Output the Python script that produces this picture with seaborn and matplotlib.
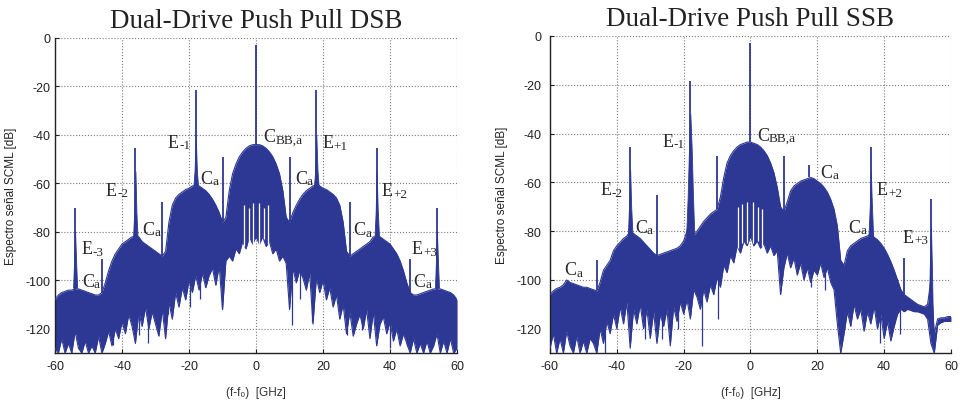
import numpy as np
import seaborn as sns
import matplotlib.pyplot as plt

sns.set_style("ticks")
plt.rcParams["font.family"] = ["Liberation Sans", "DejaVu Sans"]
plt.rcParams["axes.unicode_minus"] = False

# frequency grid (GHz), one reading per GHz
freq = np.arange(-60, 61)

# ---- DSB panel: upper edge and lower edge of the spectrum band (dB)
dsb_top = [
    -108, -106, -105, -104.5, -104, -104, -103.5, -103.5, -104, -104.5,
    -105, -105.5, -106, -106, -105, -101, -96, -92, -89, -87,
    -85, -84, -83, -82, -82, -82, -84, -85, -86, -87,
    -88, -89, -90, -88, -76, -69, -66, -64.5, -63.5, -62.5,
    -62, -61, -61, -61, -62, -63, -64.5, -66.5, -69, -72,
    -76, -74, -63, -56, -52, -49, -47, -45.5, -44.5, -44,
    -44,
    -44, -44.5, -45.5, -47, -49, -52, -56, -63, -74, -76,
    -72, -69, -66.5, -64.5, -63, -62, -61, -60.5, -61, -62,
    -62.5, -63.5, -64.5, -66, -69, -76, -88, -90, -89, -88,
    -87, -86, -85, -84, -82, -82, -82, -83, -84, -85,
    -87, -89, -92, -96, -101, -105, -106, -106, -105.5, -105,
    -104.5, -104, -103.5, -103.5, -103.5, -104, -104.5, -105, -106, -108,
]
dsb_floor = [
    -128, -130, -124, -130, -126, -130, -121, -128, -130, -125,
    -130, -127, -130, -123, -130, -126, -121, -127, -120, -124,
    -117, -122, -114, -119, -126, -113, -119, -111, -120, -113,
    -118, -123, -112, -124, -109, -116, -105, -111, -103, -108,
    -100, -105, -98, -104, -97, -103, -98, -95, -102, -94,
    -112, -92, -90, -92, -87, -89, -84, -87, -82, -85,
    -82,
    -85, -82, -86, -84, -89, -87, -92, -90, -93, -112,
    -95, -101, -96, -99, -104, -97, -118, -99, -105, -100,
    -108, -103, -111, -106, -116, -110, -122, -113, -123, -118,
    -114, -120, -112, -124, -113, -127, -118, -115, -122, -117,
    -125, -120, -127, -122, -126, -130, -124, -130, -126, -130,
    -125, -130, -127, -122, -130, -125, -130, -124, -130, -128,
]

# ---- SSB panel
ssb_top = [
    -106, -104.5, -103.5, -103, -102, -100, -101, -101.5, -102, -102.5,
    -103, -103, -103.5, -104, -104.5, -101, -96, -94, -92, -88,
    -86, -84.5, -83, -82, -80, -81, -82, -83, -84.5, -86,
    -87.5, -89, -90, -89.5, -89, -88.5, -88, -87.5, -87, -86,
    -84, -80, -72, -82, -80, -78, -76, -74.5, -73, -72,
    -71, -66, -58, -52, -49, -47, -45.5, -44.5, -44, -43.5,
    -43.5,
    -44, -44.5, -45.5, -47, -49, -52, -56, -62, -70, -72,
    -68, -63.5, -61.5, -60.5, -59.5, -59, -58.5, -58, -58.5, -59.5,
    -60.5, -62, -64, -67, -71, -78, -92, -94, -88, -86,
    -85, -84, -83, -82.5, -82, -81, -82.5, -83.5, -85, -87,
    -89.5, -92.5, -96, -100, -104, -106, -107, -108, -109, -110,
    -110.5, -111, -110, -100, -122, -116, -115.5, -115.5, -115, -115,
]
ssb_floor = [
    -128, -122, -130, -124, -130, -121, -127, -130, -123, -130,
    -125, -130, -124, -126, -130, -120, -126, -117, -122, -114,
    -120, -111, -118, -109, -128, -112, -118, -110, -120, -112,
    -124, -113, -126, -114, -119, -112, -127, -111, -117, -109,
    -114, -108, -116, -104, -107, -112, -104, -109, -102, -106,
    -99, -103, -94, -97, -90, -93, -86, -89, -84, -86,
    -82,
    -86, -84, -87, -85, -89, -86, -90, -88, -106, -95,
    -89, -95, -91, -98, -93, -100, -95, -101, -96, -98,
    -93, -99, -95, -101, -104, -118, -130, -122, -113, -119,
    -110, -116, -112, -121, -113, -118, -111, -120, -114, -124,
    -117, -125, -119, -114, -112, -113, -112, -112.5, -113, -113,
    -113.5, -114, -116, -126, -130, -118.5, -117.5, -117, -117, -117,
]

# narrow carriers: (freq GHz, base dB, peak dB)
dsb_spikes = [
    (-54, -104, -70), (-46, -105, -91), (-36, -82, -45.5), (-28, -90, -67.5),
    (-18, -61, -21.5), (-10, -76, -49), (0, -44, -3), (10, -76, -49),
    (18, -61, -21.5), (28, -90, -67.5), (36, -82, -45.5), (46, -105, -91),
    (54, -104, -70),
]
ssb_spikes = [
    (-46, -104, -92), (-36, -80, -45.5), (-28, -90, -65), (-18, -80, -18.5),
    (-10, -71, -49), (0, -43.5, -3), (10, -72, -49), (17.6, -58, -53),
    (36, -81, -45.5), (46, -106, -91), (54, -100, -67),
]

# deep single-bin dips below the band: (freq, from dB, down to dB)
dsb_dips = [
    (-42.8, -110, -126.5), (-40.3, -110, -118.5), (-34.8, -105, -122.5),
    (-32.3, -105, -126), (-28.8, -100, -118), (-26.3, -100, -114),
    (-19.8, -90, -111), (-16.8, -90, -107.5), (-10.3, -85, -111),
    (10.6, -85, -118.5), (13.1, -85, -107.5), (16.6, -90, -117),
    (27.1, -100, -122.5), (31.6, -100, -120.5), (40, -100, -128), (45, -110, -127),
]
ssb_dips = [
    (-43.5, -110, -130), (-31.6, -100, -124), (-26.6, -100, -124),
    (-21.6, -95, -120), (-14.6, -90, -127), (-9.6, -85, -116),
    (18.2, -80, -103), (22.2, -80, -104), (38.7, -100, -126), (44.7, -108, -122),
]

# empty bins reaching up into the central lobe: (freq, from dB, up to dB)
dsb_gaps = [(-3.5, -86, -69), (-2.2, -84, -70), (-1, -85, -68),
            (1, -85, -68), (2.3, -83, -70), (3.5, -85, -69)]
ssb_gaps = [(-3.7, -87, -70), (-2.4, -85, -69), (-1.1, -85, -68),
            (0.9, -85, -68), (2.2, -84, -70), (3.5, -86, -71)]

# skirts at the foot of the carriers: (freq list, level list)
dsb_skirts = [
    ([-54.6, -54.3, -54, -53.7, -53.4], [-103, -92, -80, -92, -103]),
    ([-36.7, -36.3, -36, -35.7, -35.3], [-82, -70, -55, -72, -84]),
    ([-18.7, -18.35, -18, -17.65, -17.3], [-61, -55, -40, -55, -61]),
    ([17.3, 17.65, 18, 18.35, 18.7], [-61, -55, -40, -55, -61]),
    ([35.3, 35.7, 36, 36.3, 36.7], [-84, -72, -55, -70, -82]),
    ([53.4, 53.7, 54, 54.3, 54.6], [-103, -92, -80, -92, -103]),
]
ssb_skirts = [
    ([-36.7, -36.3, -36, -35.7, -35.3], [-82, -68, -55, -70, -82]),
    ([-19.3, -18.8, -18.4, -18, -17.6, -17.2, -16.8],
     [-84, -66, -46, -32, -46, -66, -82]),
    ([35.3, 35.7, 36, 36.3, 36.7], [-82, -70, -55, -68, -82]),
    ([53.4, 53.7, 54, 54.3, 54.6], [-110, -92, -78, -95, -118]),
]

# labels: (letter, index, left x, centre y)
dsb_labels = [
    ("E", "-1", -26.3, -43), ("C", "BB,a", 2.1, -40.5), ("E", "+1", 19.7, -43.3),
    ("C", "a", -16.7, -57.8), ("C", "a", 11.6, -57.8), ("E", "-2", -44.8, -62.8),
    ("E", "+2", 37.6, -63), ("C", "a", -34.0, -78.8), ("C", "a", 29.0, -79),
    ("E", "-3", -52, -87), ("E", "+3", 46.5, -87), ("C", "a", -52, -100.3),
    ("C", "a", 46.9, -100.3),
]
ssb_labels = [
    ("E", "-1", -26.3, -43.2), ("C", "BB,a", 1.9, -40.6), ("C", "a", 20.8, -55.9),
    ("E", "-2", -45, -62.9), ("E", "+2", 37.8, -62.9), ("C", "a", -34.6, -78.4),
    ("C", "a", 29.2, -78.4), ("E", "+3", 45.6, -82.5), ("C", "a", -55.8, -95.8),
]

BLUE = "#2d3894"
SERIF = "Liberation Serif"
LETTER_W = {"E": 8.0, "C": 8.7}


def draw_panel(ax, title, top, floor, spikes, dips, gaps, skirts, labels, tick_pad):
    ax.fill_between(freq, floor, top, color=BLUE, lw=0, zorder=2)
    sns.lineplot(x=freq, y=top, ax=ax, color=BLUE, lw=0.8, zorder=3)
    sns.lineplot(x=freq, y=floor, ax=ax, color=BLUE, lw=0.8, zorder=3)
    for x, hi, lo in dips:
        ax.vlines(x, lo, hi, color=BLUE, lw=0.9, zorder=3)
    for x, lo, hi in gaps:
        ax.vlines(x, lo, hi, color="white", lw=0.9, zorder=3.2)
    for xs, lv in skirts:
        ax.fill_between(xs, min(lv), lv, color=BLUE, lw=0.6, zorder=3.5)
    for x, lo, hi in spikes:
        ax.vlines(x, lo, hi, color=BLUE, lw=1.3, zorder=4)
    for letter, sub, x, y in labels:
        ax.text(x, y, letter, fontsize=13, family=SERIF, ha="left", va="center",
                color="#2a2a2a", zorder=5)
        ax.annotate(sub, xy=(x, y), xytext=(LETTER_W[letter], -2.2),
                    textcoords="offset points", fontsize=9.5, family=SERIF,
                    ha="left", va="center", color="#2a2a2a", zorder=5)

    ax.set_xlim(-60, 60)
    ax.set_ylim(-130, 0)
    ax.set_xticks(range(-60, 61, 20))
    ax.set_yticks(range(-120, 1, 20))
    ax.grid(True, linestyle=":", color="#7a7a7a", lw=0.8)
    ax.set_axisbelow(True)
    for s in ["top", "right"]:
        ax.spines[s].set_visible(False)
    for s in ["left", "bottom"]:
        ax.spines[s].set_color("#222")
        ax.spines[s].set_linewidth(1.0)
    ax.tick_params(direction="in", length=3, labelsize=9, colors="#222")
    ax.tick_params(axis="y", pad=tick_pad)
    ax.tick_params(axis="x", pad=5)
    ax.set_title(title, family=SERIF, fontsize=19.5, pad=8, color="#222")
    ax.set_xlabel("(f-f\u2080)  [GHz]", fontsize=8.5, labelpad=10, color="#333")
    ax.set_ylabel("Espectro se\u00f1al SCML [dB]", fontsize=8.5, labelpad=6, color="#222")


fig = plt.figure(figsize=(9.6, 4.02), dpi=100)
ax1 = fig.add_axes([0.0573, 0.119, 0.4188, 0.784])
ax2 = fig.add_axes([0.5729, 0.119, 0.4177, 0.789])

draw_panel(ax1, "Dual-Drive Push Pull DSB", dsb_top, dsb_floor, dsb_spikes,
           dsb_dips, dsb_gaps, dsb_skirts, dsb_labels, 3.5)
draw_panel(ax2, "Dual-Drive Push Pull SSB", ssb_top, ssb_floor, ssb_spikes,
           ssb_dips, ssb_gaps, ssb_skirts, ssb_labels, 6)

fig.savefig("out.png", dpi=100)
